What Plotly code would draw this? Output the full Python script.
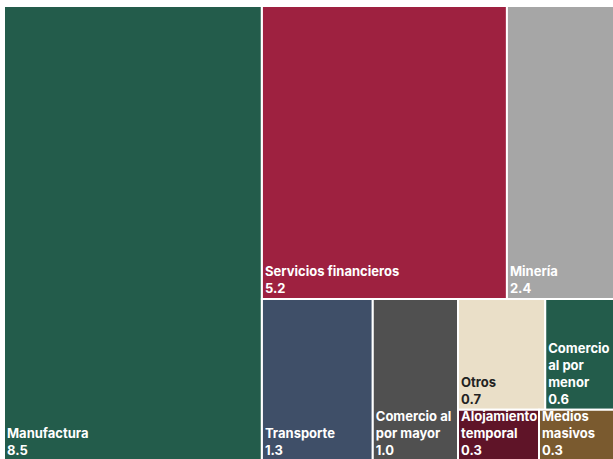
import plotly.graph_objects as go

# --- data ---
sectors = ["Manufactura", "Servicios financieros", "Minería", "Transporte",
           "Comercio al por mayor", "Otros", "Comercio al por menor",
           "Alojamiento temporal", "Medios masivos"]
tile_labels = ["Manufactura", "Servicios financieros", "Minería", "Transporte",
               "Comercio al<br>por mayor", "Otros", "Comercio<br>al por<br>menor",
               "Alojamiento<br>temporal", "Medios<br>masivos"]
values = [8.5, 5.2, 2.4, 1.3, 1.0, 0.7, 0.6, 0.3, 0.3]
colors = ["#235C4B", "#9E2140", "#A6A6A6", "#3F4F68", "#505050",
          "#EADFC8", "#235C4B", "#5F1428", "#7A5A2F"]
text_colors = ["#FFFFFF", "#FFFFFF", "#FFFFFF", "#FFFFFF", "#FFFFFF",
               "#222222", "#FFFFFF", "#FFFFFF", "#FFFFFF"]
# grouping used to arrange tiles (slice-dice nesting)
group_ids = ["G1", "G2", "G3", "G4", "G5", "G6"]
group_parents = ["", "G1", "G1", "G3", "G4", "G4"]
sector_parent = {"Manufactura": "", "Servicios financieros": "G2", "Minería": "G2",
                 "Transporte": "G3", "Comercio al por mayor": "G3", "Otros": "G5",
                 "Comercio al por menor": "G5", "Alojamiento temporal": "G6",
                 "Medios masivos": "G6"}

# order of nodes (controls tile order with sort=False)
order = ["Manufactura", "G1", "G2", "G3", "Servicios financieros", "Minería",
         "Transporte", "Comercio al por mayor", "G4", "G5", "G6", "Otros",
         "Comercio al por menor", "Alojamiento temporal", "Medios masivos"]

ids, parents, vals, cols, texts, tcols, labs = [], [], [], [], [], [], []
for node in order:
    if node in group_ids:
        k = group_ids.index(node)
        ids.append(node); parents.append(group_parents[k]); vals.append(0)
        cols.append("#FFFFFF"); texts.append(""); tcols.append("#FFFFFF"); labs.append(node)
    else:
        k = sectors.index(node)
        ids.append(node); parents.append(sector_parent[node]); vals.append(values[k])
        cols.append(colors[k])
        texts.append("<b>%s<br>%.1f</b>" % (tile_labels[k], values[k]))
        tcols.append(text_colors[k]); labs.append(node)

fig = go.Figure(go.Treemap(
    ids=ids, labels=labs, parents=parents, values=vals,
    branchvalues="remainder", sort=False,
    text=texts, texttemplate="%{text}", textposition="bottom left",
    textfont=dict(family="Inter, Open Sans, sans-serif", size=13, color=tcols),
    marker=dict(colors=cols, line=dict(color="#FFFFFF", width=2),
                pad=dict(t=0, l=0, r=0, b=0)),
    tiling=dict(packing="slice-dice", pad=0),
    pathbar=dict(visible=False),
    hoverinfo="skip",
))
fig.update_layout(
    width=620, height=461,
    margin=dict(l=4, r=0, t=6, b=0),
    paper_bgcolor="#FFFFFF",
    uniformtext=dict(minsize=13, mode="show"),
    showlegend=False,
)
fig.write_html(
    "out.html",
    config={"displayModeBar": False},
    post_script=("document.body.style.margin='0';"
                 "document.body.style.overflow='hidden';"
                 "document.documentElement.style.overflow='hidden';"),
)
